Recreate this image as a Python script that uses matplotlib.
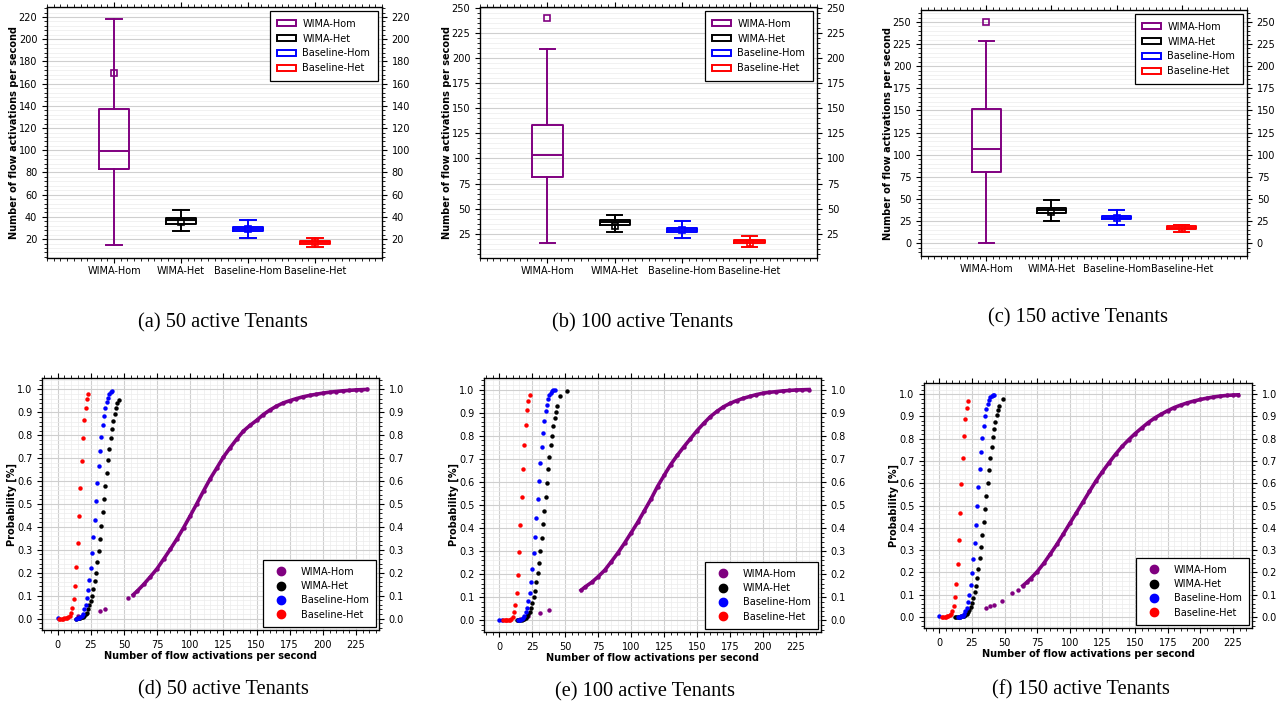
import matplotlib
matplotlib.use("Agg")
import matplotlib.pyplot as plt
from matplotlib.ticker import AutoMinorLocator, MultipleLocator
from matplotlib.patches import Patch
from matplotlib.lines import Line2D

# ---------------- data ----------------
series_names = ["WIMA-Hom", "WIMA-Het", "Baseline-Hom", "Baseline-Het"]
series_colors = ["purple", "black", "blue", "red"]

captions = ["(a) 50 active Tenants", "(b) 100 active Tenants", "(c) 150 active Tenants",
            "(d) 50 active Tenants", "(e) 100 active Tenants", "(f) 150 active Tenants"]

# box plots: whisker low, Q1, median, Q3, whisker high, square marker
box_a_low = [15, 27, 21, 13]
box_a_q1 = [83, 34, 27, 15.5]
box_a_med = [99, 37, 29, 17]
box_a_q3 = [137, 39, 31, 18.5]
box_a_high = [218, 46, 37, 21]
box_a_mark = [170, 35, 29, 17]

box_b_low = [16, 27, 21, 12]
box_b_q1 = [82, 34, 27, 16]
box_b_med = [103, 37, 28.5, 17.5]
box_b_q3 = [133, 39, 31, 19]
box_b_high = [209, 44, 38, 23]
box_b_mark = [240, 33, 29, 16]

box_c_low = [0, 25, 21, 13]
box_c_q1 = [80, 34, 27, 16]
box_c_med = [106, 38, 29, 17.5]
box_c_q3 = [152, 40, 31, 19]
box_c_high = [229, 49, 38, 21]
box_c_mark = [250, 35, 29, 17]

# CDF (d) 50 tenants
cdf_d_hom_tail_x = [15, 32, 36, 53]
cdf_d_hom_tail_y = [0.01, 0.033, 0.04, 0.088]
cdf_d_hom_x = [57, 60, 65, 70, 75, 80, 85, 90, 95, 100, 105, 110, 115, 120, 125, 130, 135, 140,
               145, 150, 155, 160, 165, 170, 175, 180, 185, 190, 195, 200, 205, 210, 215, 220,
               225, 229, 233]
cdf_d_hom_y = [0.104, 0.12, 0.15, 0.183, 0.218, 0.26, 0.303, 0.348, 0.397, 0.449, 0.502, 0.557,
               0.61, 0.657, 0.705, 0.745, 0.783, 0.818, 0.843, 0.865, 0.89, 0.91, 0.927, 0.941,
               0.951, 0.96, 0.968, 0.974, 0.979, 0.984, 0.988, 0.991, 0.994, 0.996, 0.998, 0.999, 1.0]
cdf_d_het_x = [14, 15, 16, 17, 18, 19, 20, 21, 22, 23, 24, 25, 26, 27, 28, 29, 30, 31, 32, 33, 34,
               35, 36, 37, 38, 39, 40, 41, 42, 43, 44, 45, 46]
cdf_d_het_y = [0.0, 0.001, 0.002, 0.003, 0.005, 0.008, 0.012, 0.018, 0.026, 0.04, 0.057, 0.075,
               0.1, 0.128, 0.162, 0.2, 0.246, 0.295, 0.348, 0.405, 0.463, 0.522, 0.58, 0.636,
               0.692, 0.741, 0.787, 0.827, 0.862, 0.893, 0.918, 0.94, 0.955]
cdf_d_bhom_x = [0, 14, 15, 16, 17, 18, 19, 20, 21, 22, 23, 24, 25, 26, 27, 28, 29, 30, 31, 32, 33,
                34, 35, 36, 37, 38, 39, 40, 41]
cdf_d_bhom_y = [0.002, 0.0, 0.001, 0.002, 0.005, 0.01, 0.02, 0.04, 0.06, 0.088, 0.124, 0.169,
                0.22, 0.286, 0.358, 0.432, 0.511, 0.59, 0.664, 0.73, 0.793, 0.844, 0.885, 0.92,
                0.945, 0.962, 0.978, 0.988, 0.993]
cdf_d_bhet_x = [1, 2, 3, 4, 5, 6, 7, 8, 9, 10, 11, 12, 13, 14, 15, 16, 17, 18, 19, 20, 21, 22, 23]
cdf_d_bhet_y = [0.0, 0.0, 0.0, 0.0, 0.001, 0.002, 0.004, 0.008, 0.013, 0.023, 0.047, 0.085,
                0.143, 0.226, 0.328, 0.448, 0.571, 0.686, 0.787, 0.866, 0.921, 0.958, 0.98]

# CDF (e) 100 tenants
cdf_e_hom_tail_x = [16, 22, 31, 38]
cdf_e_hom_tail_y = [0.006, 0.019, 0.032, 0.044]
cdf_e_hom_x = [62, 65, 70, 75, 80, 85, 90, 95, 100, 105, 110, 115, 120, 125, 130, 135, 140, 145,
               150, 155, 160, 165, 170, 175, 180, 185, 190, 195, 200, 205, 210, 215, 220, 225,
               230, 235]
cdf_e_hom_y = [0.131, 0.145, 0.165, 0.19, 0.218, 0.255, 0.293, 0.335, 0.38, 0.425, 0.475, 0.525,
               0.58, 0.628, 0.675, 0.715, 0.752, 0.787, 0.822, 0.853, 0.882, 0.905, 0.925, 0.94,
               0.952, 0.962, 0.97, 0.978, 0.984, 0.988, 0.991, 0.994, 0.996, 0.998, 0.999, 1.0]
cdf_e_het_x = [13, 14, 15, 16, 17, 18, 19, 20, 21, 22, 23, 24, 25, 26, 27, 28, 29, 30, 31, 32, 33,
               34, 35, 36, 37, 38, 39, 40, 41, 42, 43, 44, 46, 51]
cdf_e_het_y = [0.0, 0.0, 0.001, 0.002, 0.003, 0.005, 0.008, 0.012, 0.018, 0.026, 0.038, 0.055,
               0.075, 0.1, 0.128, 0.165, 0.206, 0.25, 0.301, 0.358, 0.416, 0.476, 0.536, 0.596,
               0.654, 0.708, 0.758, 0.8, 0.842, 0.876, 0.904, 0.927, 0.972, 0.994]
cdf_e_bhom_x = [0, 2, 14, 15, 16, 17, 18, 19, 20, 21, 22, 23, 24, 25, 26, 27, 28, 29, 30, 31, 32,
                33, 34, 35, 36, 37, 38, 39, 40, 41, 42]
cdf_e_bhom_y = [0.002, 0.002, 0.0, 0.001, 0.002, 0.005, 0.01, 0.02, 0.035, 0.055, 0.083, 0.12,
                0.165, 0.222, 0.29, 0.363, 0.442, 0.525, 0.605, 0.682, 0.752, 0.812, 0.865,
                0.905, 0.935, 0.96, 0.975, 0.987, 0.994, 0.998, 1.0]
cdf_e_bhet_x = [3, 4, 5, 6, 7, 8, 9, 10, 11, 12, 13, 14, 15, 16, 17, 18, 19, 20, 21, 22, 23]
cdf_e_bhet_y = [0.0, 0.0, 0.0, 0.001, 0.002, 0.004, 0.008, 0.015, 0.035, 0.069, 0.121, 0.197,
                0.295, 0.412, 0.536, 0.655, 0.762, 0.848, 0.91, 0.95, 0.975]

# CDF (f) 150 tenants
cdf_f_hom_tail_x = [36, 39, 42, 48, 56, 60]
cdf_f_hom_tail_y = [0.042, 0.048, 0.054, 0.072, 0.107, 0.12]
cdf_f_hom_x = [64, 67, 70, 75, 80, 85, 90, 95, 100, 105, 110, 115, 120, 125, 130, 135, 140, 145,
               150, 155, 160, 165, 170, 175, 180, 185, 190, 195, 200, 205, 210, 215, 220, 225, 229]
cdf_f_hom_y = [0.14, 0.155, 0.172, 0.203, 0.24, 0.282, 0.325, 0.372, 0.42, 0.467, 0.515, 0.563,
               0.61, 0.652, 0.692, 0.73, 0.765, 0.795, 0.823, 0.848, 0.872, 0.893, 0.91, 0.926,
               0.94, 0.951, 0.961, 0.969, 0.976, 0.982, 0.987, 0.991, 0.994, 0.996, 0.997]
cdf_f_het_x = [12, 13, 14, 15, 16, 17, 18, 19, 20, 21, 22, 23, 24, 25, 26, 27, 28, 29, 30, 31, 32,
               33, 34, 35, 36, 37, 38, 39, 40, 41, 42, 43, 44, 45, 46, 49]
cdf_f_het_y = [0.0, 0.0, 0.0, 0.001, 0.001, 0.002, 0.003, 0.005, 0.008, 0.013, 0.02, 0.03, 0.045,
               0.063, 0.083, 0.11, 0.138, 0.174, 0.215, 0.263, 0.312, 0.368, 0.425, 0.485, 0.544,
               0.602, 0.661, 0.713, 0.761, 0.806, 0.845, 0.876, 0.907, 0.927, 0.947, 0.98]
cdf_f_bhom_x = [0, 14, 15, 16, 17, 18, 19, 20, 21, 22, 23, 24, 25, 26, 27, 28, 29, 30, 31, 32, 33,
                34, 35, 36, 37, 38, 39, 40, 41, 42]
cdf_f_bhom_y = [0.003, 0.0, 0.001, 0.001, 0.003, 0.006, 0.012, 0.025, 0.042, 0.065, 0.099,
                0.141, 0.195, 0.258, 0.332, 0.414, 0.498, 0.584, 0.665, 0.74, 0.805, 0.859, 0.9,
                0.933, 0.955, 0.972, 0.985, 0.992, 0.996, 0.998]
cdf_f_bhet_x = [2, 3, 4, 5, 6, 7, 8, 9, 10, 11, 12, 13, 14, 15, 16, 17, 18, 19, 20, 21, 22]
cdf_f_bhet_y = [0.0, 0.0, 0.0, 0.001, 0.002, 0.004, 0.008, 0.015, 0.026, 0.048, 0.087, 0.149,
                0.236, 0.344, 0.467, 0.595, 0.713, 0.811, 0.887, 0.937, 0.967]

# ---------------- drawing ----------------
FS = 7
fig = plt.figure(figsize=(12.85, 7.12), dpi=100)
W, H = 1285.0, 712.0


def rect(l, t, r, b):
    return [l / W, 1 - b / H, (r - l) / W, (b - t) / H]


def style_axis(ax, ylim, ymajor, xgrid):
    ax.set_ylim(*ylim)
    ax.yaxis.set_major_locator(MultipleLocator(ymajor))
    ax.yaxis.set_minor_locator(AutoMinorLocator(5))
    ax.tick_params(which="both", labelsize=FS, top=True, direction="out")
    ax.tick_params(which="major", length=3.5, width=0.8)
    ax.tick_params(which="minor", length=2, width=0.6)
    ax.set_axisbelow(True)
    gaxis = "both" if xgrid else "y"
    ax.grid(True, which="major", axis=gaxis, color="#cfcfcf", lw=0.8)
    ax.grid(True, which="minor", axis=gaxis, color="#ececec", lw=0.5)
    for s in ax.spines.values():
        s.set_linewidth(0.9)
    ax2 = ax.twinx()
    ax2.set_ylim(*ylim)
    ax2.yaxis.set_major_locator(MultipleLocator(ymajor))
    ax2.yaxis.set_minor_locator(AutoMinorLocator(5))
    ax2.tick_params(which="both", labelsize=FS)
    ax2.tick_params(which="major", length=3.5, width=0.8)
    ax2.tick_params(which="minor", length=2, width=0.6)
    return ax2


def box_panel(r, lows, q1s, meds, q3s, highs, marks, ylim, ymajor):
    ax = fig.add_axes(r)
    for i in range(4):
        c = series_colors[i]
        st = dict(whislo=lows[i], q1=q1s[i], med=meds[i], q3=q3s[i], whishi=highs[i],
                  fliers=[marks[i]])
        lp = dict(color=c, lw=1.4)
        ax.bxp([st], positions=[i + 1], widths=0.45, showfliers=True, manage_ticks=False,
               boxprops=lp, whiskerprops=lp, capprops=lp, medianprops=lp,
               flierprops=dict(marker="s", mfc="none", mec=c, ms=5, mew=1.2))
    ax.set_xlim(0, 5)
    ax.set_xticks([1, 2, 3, 4])
    ax.set_xticklabels(series_names)
    ax.xaxis.set_minor_locator(AutoMinorLocator(10))
    style_axis(ax, ylim, ymajor, xgrid=False)
    ax.tick_params(axis="x", which="major", pad=2)
    ax.set_ylabel("Number of flow activations per second", fontsize=FS, fontweight="bold",
                  labelpad=0)
    handles = [Patch(facecolor="white", edgecolor=c, lw=1.4) for c in series_colors]
    leg = ax.legend(handles, series_names, loc="upper right", fontsize=FS, fancybox=False,
                    framealpha=1, edgecolor="black", handlelength=1.9, handleheight=0.65,
                    borderpad=0.75, labelspacing=0.5, handletextpad=0.7, borderaxespad=0.45)
    leg.get_frame().set_linewidth(0.9)
    leg.set_zorder(10)


def cdf_panel(r, series, xlim):
    ax = fig.add_axes(r)
    (tx, ty), (hx, hy), (ex, ey), (bx, by), (rx, ry) = series
    ax.plot(tx, ty, "o", color="purple", ms=3.2, mew=0, zorder=3)
    ax.plot(hx, hy, "-o", color="purple", lw=2.6, ms=3.2, mew=0, zorder=3)
    ax.plot(ex, ey, "o", color="black", ms=3.2, mew=0, zorder=4)
    ax.plot(bx, by, "o", color="blue", ms=3.2, mew=0, zorder=5)
    ax.plot(rx, ry, "o", color="red", ms=3.2, mew=0, zorder=6)
    ax.set_xlim(*xlim)
    ax.xaxis.set_major_locator(MultipleLocator(25))
    ax.xaxis.set_minor_locator(AutoMinorLocator(5))
    style_axis(ax, (-0.05, 1.05), 0.1, xgrid=True)
    ax.set_xlabel("Number of flow activations per second", fontsize=FS, fontweight="bold",
                  labelpad=1)
    ax.set_ylabel("Probability [%]", fontsize=FS, fontweight="bold", labelpad=0)
    handles = [Line2D([], [], ls="none", marker="o", color=c, ms=6) for c in series_colors]
    leg = ax.legend(handles, series_names, loc="lower right", fontsize=FS, fancybox=False,
                    framealpha=1, edgecolor="black", handlelength=2.4, borderpad=0.7,
                    labelspacing=0.45, handletextpad=0.8, borderaxespad=0.35)
    leg.get_frame().set_linewidth(0.9)
    leg.set_zorder(10)


box_panel(rect(47, 7, 382, 258), box_a_low, box_a_q1, box_a_med, box_a_q3, box_a_high,
          box_a_mark, (3, 229), 20)
box_panel(rect(480, 7, 817, 258), box_b_low, box_b_q1, box_b_med, box_b_q3, box_b_high,
          box_b_mark, (0.6, 251.3), 25)
box_panel(rect(921, 10, 1247, 256), box_c_low, box_c_q1, box_c_med, box_c_q3, box_c_high,
          box_c_mark, (-14.5, 263.5), 25)

cdf_panel(rect(42, 378, 379, 630),
          [(cdf_d_hom_tail_x, cdf_d_hom_tail_y), (cdf_d_hom_x, cdf_d_hom_y),
           (cdf_d_het_x, cdf_d_het_y), (cdf_d_bhom_x, cdf_d_bhom_y), (cdf_d_bhet_x, cdf_d_bhet_y)],
          (-11.8, 242.3))
cdf_panel(rect(484, 378, 821, 632),
          [(cdf_e_hom_tail_x, cdf_e_hom_tail_y), (cdf_e_hom_x, cdf_e_hom_y),
           (cdf_e_het_x, cdf_e_het_y), (cdf_e_bhom_x, cdf_e_bhom_y), (cdf_e_bhet_x, cdf_e_bhet_y)],
          (-11.7, 244.1))
cdf_panel(rect(924, 383, 1252, 628),
          [(cdf_f_hom_tail_x, cdf_f_hom_tail_y), (cdf_f_hom_x, cdf_f_hom_y),
           (cdf_f_het_x, cdf_f_het_y), (cdf_f_bhom_x, cdf_f_bhom_y), (cdf_f_bhet_x, cdf_f_bhet_y)],
          (-11.7, 239.5))

cap_pos = [(223, 323), (643, 323), (1078, 318), (223, 690), (645, 692), (1081, 690)]
for (cx, cy), txt in zip(cap_pos, captions):
    fig.text(cx / W, 1 - cy / H, txt, ha="center", va="center", fontsize=14.7,
             family="Liberation Serif")

fig.savefig("out.png", dpi=100)
